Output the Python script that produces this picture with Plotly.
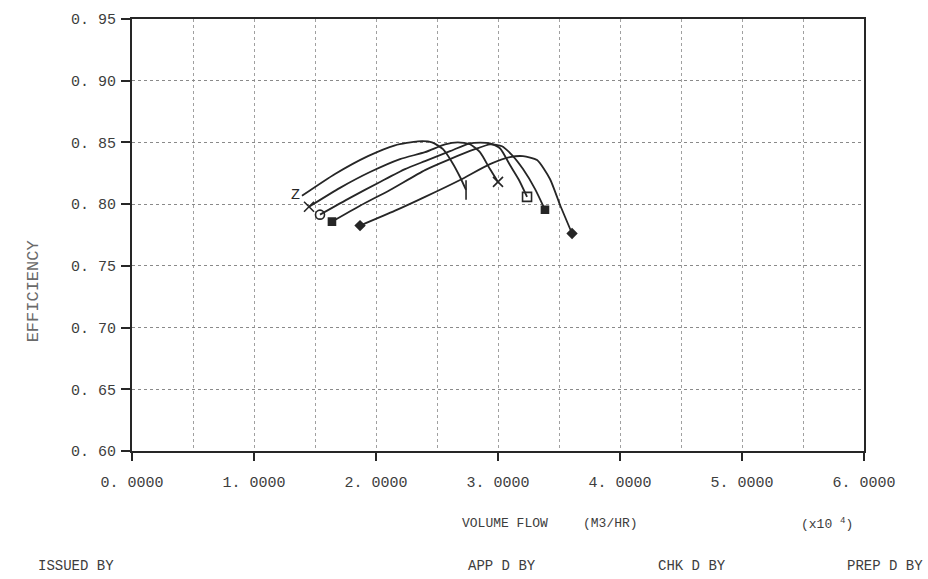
import plotly.graph_objects as go

# Volume flow (x10^4 m3/hr) and efficiency along each of the five speed lines
flow_a = [1.393, 1.664, 1.934, 2.156, 2.344, 2.459, 2.549, 2.623, 2.689, 2.738]
eff_a = [0.8067, 0.8244, 0.8389, 0.8477, 0.8509, 0.8501, 0.8445, 0.8340, 0.8220, 0.8115]

flow_b = [1.451, 1.705, 1.951, 2.197, 2.402, 2.566, 2.672, 2.770, 2.852, 2.934, 3.000]
eff_b = [0.7979, 0.8132, 0.8260, 0.8365, 0.8421, 0.8485, 0.8501, 0.8485, 0.8421, 0.8284, 0.8180]

flow_c = [1.541, 1.787, 2.033, 2.238, 2.402, 2.607, 2.770, 2.934, 3.016, 3.098, 3.172, 3.238]
eff_c = [0.7915, 0.8051, 0.8180, 0.8284, 0.8349, 0.8429, 0.8493, 0.8493, 0.8453, 0.8317, 0.8196, 0.8059]

flow_d = [1.639, 1.869, 2.115, 2.402, 2.607, 2.811, 2.934, 3.033, 3.115, 3.205, 3.303, 3.385]
eff_d = [0.7858, 0.7987, 0.8115, 0.8276, 0.8365, 0.8445, 0.8485, 0.8469, 0.8397, 0.8284, 0.8124, 0.7955]

flow_e = [1.869, 2.156, 2.402, 2.689, 2.934, 3.098, 3.205, 3.320, 3.426, 3.508, 3.607]
eff_e = [0.7826, 0.7947, 0.8059, 0.8196, 0.8324, 0.8381, 0.8389, 0.8357, 0.8204, 0.7995, 0.7762]

x_tick_vals = [0, 1, 2, 3, 4, 5, 6]
x_tick_text = ["0. 0000", "1. 0000", "2. 0000", "3. 0000", "4. 0000", "5. 0000", "6. 0000"]
y_tick_vals = [0.60, 0.65, 0.70, 0.75, 0.80, 0.85, 0.90, 0.95]
y_tick_text = ["0. 60", "0. 65", "0. 70", "0. 75", "0. 80", "0. 85", "0. 90", "0. 95"]

INK = "#262626"
TEXT = "#3d3d3d"
FONT = "Liberation Mono"

fig = go.Figure()

# (flow, efficiency, start symbol, end symbol, marker size)
speed_lines = [
    (flow_a, eff_a, None, "line-ns-open", 14),
    (flow_b, eff_b, "x-thin-open", "x-thin-open", 10),
    (flow_c, eff_c, "circle-open", "square-open", 9),
    (flow_d, eff_d, "square", "square", 7),
    (flow_e, eff_e, "diamond", "diamond", 7),
]

for flow, eff, sym_start, sym_end, size in speed_lines:
    fig.add_trace(go.Scatter(
        x=flow, y=eff, mode="lines",
        line=dict(color=INK, width=1.8, shape="spline", smoothing=0.6),
        showlegend=False, hoverinfo="skip",
    ))
    if sym_start is None:
        ends_x, ends_y, symbols = [flow[-1]], [eff[-1]], [sym_end]
    else:
        ends_x, ends_y, symbols = [flow[0], flow[-1]], [eff[0], eff[-1]], [sym_start, sym_end]
    fig.add_trace(go.Scatter(
        x=ends_x, y=ends_y, mode="markers",
        marker=dict(symbol=symbols, size=size, color=INK,
                    line=dict(color=INK, width=1.6)),
        showlegend=False, hoverinfo="skip",
    ))

# lettered start of the lowest-speed line
fig.add_annotation(
    x=flow_a[0], y=eff_a[0], xref="x", yref="y", text="Z", showarrow=False,
    xanchor="right", yanchor="middle",
    font=dict(family=FONT, size=15, color=INK),
)

fig.update_xaxes(
    range=[0, 6], tickmode="array", tickvals=x_tick_vals, ticktext=x_tick_text,
    ticks="outside", ticklen=8, tickwidth=1.5, tickcolor=INK,
    showline=True, linecolor=INK, linewidth=2, mirror=True, zeroline=False,
    tickfont=dict(family=FONT, size=15, color=TEXT), ticklabelstandoff=8,
    minor=dict(tickmode="linear", tick0=0, dtick=0.5, ticks="",
               showgrid=True, gridcolor="#a0a0a0", griddash="dot", gridwidth=1),
    gridcolor="#a0a0a0", showgrid=True, griddash="dot",
)
fig.update_yaxes(
    range=[0.60, 0.95], tickmode="array", tickvals=y_tick_vals, ticktext=y_tick_text,
    ticks="outside", ticklen=9, tickwidth=1.5, tickcolor=INK,
    showline=True, linecolor=INK, linewidth=2, mirror=True, zeroline=False,
    tickfont=dict(family=FONT, size=15, color=TEXT), ticklabelstandoff=2,
    showgrid=True, gridcolor="#8a8a8a", griddash="dot", gridwidth=1,
)

def label(text, x, y, anchor="center", size=13, angle=0, color=TEXT):
    fig.add_annotation(text=text, x=x, y=y, xref="paper", yref="paper",
                       xanchor=anchor, yanchor="middle", showarrow=False,
                       textangle=angle, font=dict(family=FONT, size=size, color=color))

label("VOLUME FLOW", 0.510, -0.168)
label("(M3/HR)", 0.654, -0.168)
label("(x10 <sup>4</sup>)", 0.949, -0.168)
label("EFFICIENCY", -0.135, 0.370, angle=-90, size=17, color="#6a6a6a")

label("ISSUED BY", -0.022, -0.267, anchor="right", size=14)
label("APP D BY", 0.456, -0.267, anchor="left", size=14)
label("CHK D BY", 0.716, -0.267, anchor="left", size=14)
label("PREP D BY", 1.083, -0.267, anchor="right", size=14)

fig.update_layout(
    width=928, height=579,
    margin=dict(l=132, r=64, t=16, b=128),
    paper_bgcolor="white", plot_bgcolor="white",
    showlegend=False,
)

fig.write_html("out.html")
